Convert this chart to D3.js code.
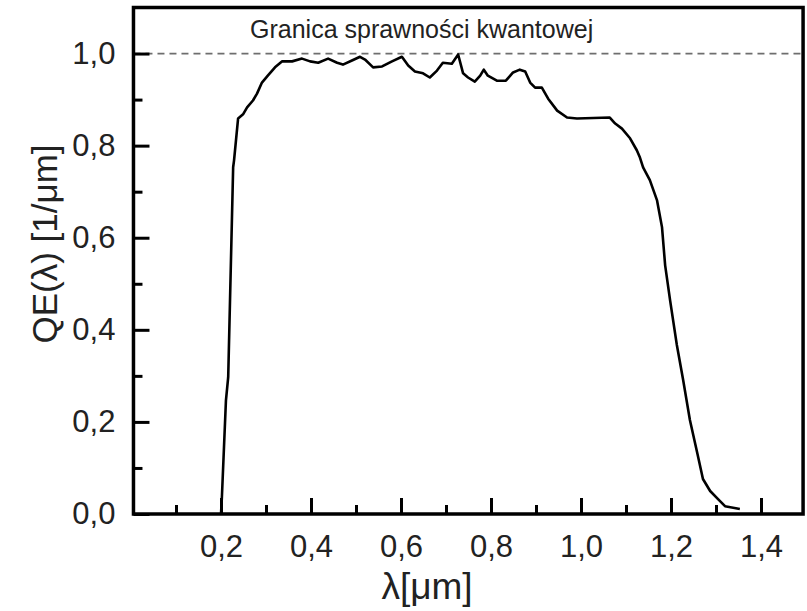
<!DOCTYPE html>
<html>
<head>
<meta charset="utf-8">
<script src="https://cdn.jsdelivr.net/npm/d3@7"></script>
<style>
  body { margin: 0; background: #fff; }
  svg { display: block; font-family: "Liberation Sans", Arial, sans-serif; }
</style>
</head>
<body>
<svg id="chart" width="807" height="611"></svg>
<script>
// wavelength in µm
const wavelength = [0.200,0.202,0.211,0.216,0.227,0.229,0.238,0.249,0.258,0.271,0.280,0.291,0.304,0.320,0.336,0.358,0.380,0.398,0.416,0.438,0.458,0.471,0.491,0.509,0.520,0.538,0.558,0.580,0.602,0.616,0.631,0.649,0.664,0.680,0.693,0.713,0.727,0.738,0.749,0.764,0.776,0.784,0.793,0.813,0.833,0.849,0.864,0.876,0.887,0.898,0.913,0.927,0.947,0.969,0.991,1.064,1.076,1.091,1.109,1.124,1.131,1.138,1.153,1.169,1.180,1.187,1.198,1.213,1.227,1.242,1.258,1.271,1.287,1.304,1.320,1.353];
const qe = [0.000,0.037,0.247,0.297,0.753,0.768,0.859,0.868,0.883,0.898,0.913,0.937,0.952,0.970,0.983,0.983,0.989,0.983,0.980,0.989,0.980,0.976,0.985,0.993,0.987,0.970,0.972,0.983,0.993,0.974,0.961,0.957,0.948,0.963,0.980,0.978,0.998,0.957,0.948,0.939,0.952,0.965,0.952,0.941,0.941,0.959,0.965,0.961,0.937,0.926,0.926,0.902,0.876,0.861,0.859,0.861,0.848,0.837,0.816,0.790,0.774,0.753,0.725,0.681,0.623,0.540,0.464,0.367,0.291,0.204,0.134,0.076,0.050,0.033,0.017,0.011];
const xMajorTicks = [0.2,0.4,0.6,0.8,1.0,1.2,1.4];
const xMinorTicks = [0.1,0.3,0.5,0.7,0.9,1.1,1.3];
const yMajorTicks = [0.0,0.2,0.4,0.6,0.8,1.0];
const yMinorTicks = [0.1,0.3,0.5,0.7,0.9];
const limitValue = 1.0;
const limitLabel = "Granica sprawności kwantowej";
const xTitle = "λ[μm]";
const yTitle = "QE(λ) [1/μm]";

const svg = d3.select("#chart");
const x = d3.scaleLinear().domain([0, 1.5]).range([131, 806]);
const y = d3.scaleLinear().domain([0, 1.1]).range([514, 7.5]);
const x0 = x(0.0055), x1 = x(1.4935), yb = y(0), yt = y(1.1);
const fmt = d => d3.format(".1f")(d).replace(".", ",");

// dashed limit line
svg.append("line")
  .attr("x1", x0).attr("x2", x1)
  .attr("y1", y(limitValue)).attr("y2", y(limitValue))
  .attr("stroke", "#6e6e6e").attr("stroke-width", 1.8)
  .attr("stroke-dasharray", "7,5");

svg.append("text")
  .attr("x", 250).attr("y", 38)
  .attr("font-size", 25).attr("fill", "#222")
  .text(limitLabel);

// curve
const pts = wavelength.map((w, i) => [w, qe[i]]);
svg.append("path")
  .datum(pts)
  .attr("fill", "none").attr("stroke", "#000")
  .attr("stroke-width", 2.6).attr("stroke-linejoin", "round")
  .attr("d", d3.line().x(d => x(d[0])).y(d => y(d[1])));

// axes
const gx = svg.append("g").attr("transform", `translate(0,${yb})`)
  .call(d3.axisBottom(x).tickValues(xMajorTicks).tickSize(-16).tickPadding(21).tickFormat(fmt));
const gxm = svg.append("g").attr("transform", `translate(0,${yb})`)
  .call(d3.axisBottom(x).tickValues(xMinorTicks).tickSize(-9).tickFormat(""));
const gy = svg.append("g").attr("transform", `translate(${x0},0)`)
  .call(d3.axisLeft(y).tickValues(yMajorTicks).tickSize(-16).tickPadding(18).tickFormat(fmt));
const gym = svg.append("g").attr("transform", `translate(${x0},0)`)
  .call(d3.axisLeft(y).tickValues(yMinorTicks).tickSize(-9).tickFormat(""));

[gx, gxm, gy, gym].forEach(g => {
  g.select(".domain").remove();
  g.selectAll(".tick line").attr("stroke", "#000").attr("stroke-width", 3);
  g.selectAll(".tick text").attr("font-size", 31).attr("fill", "#222")
    .attr("font-family", "'Liberation Sans', Arial, sans-serif");
});
gx.selectAll(".tick text").attr("dy", "0.71em");

// frame
svg.append("rect")
  .attr("x", x0).attr("y", yt)
  .attr("width", x1 - x0).attr("height", yb - yt)
  .attr("fill", "none").attr("stroke", "#000").attr("stroke-width", 3.5);

// axis titles
svg.append("text")
  .attr("x", 427).attr("y", 599)
  .attr("text-anchor", "middle").attr("font-size", 37).attr("fill", "#222")
  .text(xTitle);
svg.append("text")
  .attr("transform", `translate(57,244) rotate(-90)`)
  .attr("text-anchor", "middle").attr("font-size", 35).attr("fill", "#222")
  .text(yTitle);
</script>
</body>
</html>
